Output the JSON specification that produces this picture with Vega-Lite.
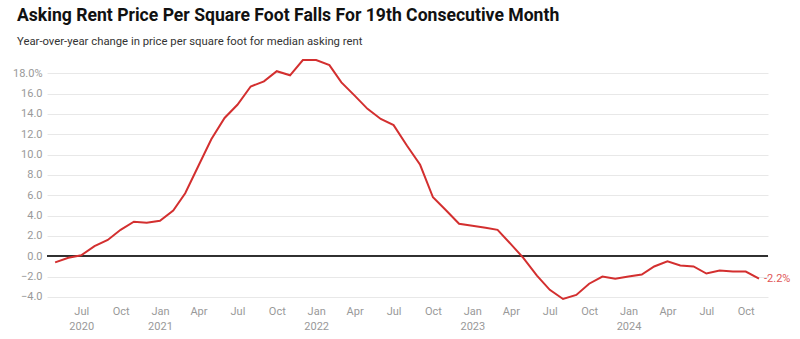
{
  "$schema": "https://vega.github.io/schema/vega-lite/v6.json",
  "width": 721,
  "height": 242,
  "autosize": {"type": "none"},
  "padding": {"left": 47, "top": 58, "right": 32, "bottom": 39},
  "background": "white",
  "config": {
    "font": "Roboto",
    "view": {"stroke": null}
  },
  "title": {
    "text": "Asking Rent Price Per Square Foot Falls For 19th Consecutive Month",
    "subtitle": "Year-over-year change in price per square foot for median asking rent",
    "anchor": "start",
    "frame": "group",
    "dx": -30,
    "offset": 9,
    "font": "Roboto",
    "fontSize": 17.6,
    "fontWeight": "bold",
    "color": "#111111",
    "subtitleFont": "Roboto",
    "subtitleFontSize": 11.3,
    "subtitleColor": "#333333",
    "subtitlePadding": 11
  },
  "data": {
    "values": [
      {"date": "2020-05-01", "value": -0.6},
      {"date": "2020-06-01", "value": -0.15},
      {"date": "2020-07-01", "value": 0.1},
      {"date": "2020-08-01", "value": 1.0},
      {"date": "2020-09-01", "value": 1.6},
      {"date": "2020-10-01", "value": 2.6},
      {"date": "2020-11-01", "value": 3.4},
      {"date": "2020-12-01", "value": 3.3},
      {"date": "2021-01-01", "value": 3.5},
      {"date": "2021-02-01", "value": 4.5},
      {"date": "2021-03-01", "value": 6.2},
      {"date": "2021-04-01", "value": 8.9},
      {"date": "2021-05-01", "value": 11.5},
      {"date": "2021-06-01", "value": 13.6},
      {"date": "2021-07-01", "value": 14.9},
      {"date": "2021-08-01", "value": 16.7},
      {"date": "2021-09-01", "value": 17.2},
      {"date": "2021-10-01", "value": 18.2},
      {"date": "2021-11-01", "value": 17.8},
      {"date": "2021-12-01", "value": 19.3},
      {"date": "2022-01-01", "value": 19.3},
      {"date": "2022-02-01", "value": 18.8},
      {"date": "2022-03-01", "value": 17.1},
      {"date": "2022-04-01", "value": 15.8},
      {"date": "2022-05-01", "value": 14.5},
      {"date": "2022-06-01", "value": 13.5},
      {"date": "2022-07-01", "value": 12.9},
      {"date": "2022-08-01", "value": 10.9},
      {"date": "2022-09-01", "value": 9.0},
      {"date": "2022-10-01", "value": 5.8},
      {"date": "2022-11-01", "value": 4.5},
      {"date": "2022-12-01", "value": 3.2},
      {"date": "2023-01-01", "value": 3.0},
      {"date": "2023-02-01", "value": 2.8},
      {"date": "2023-03-01", "value": 2.6},
      {"date": "2023-04-01", "value": 1.2},
      {"date": "2023-05-01", "value": -0.2},
      {"date": "2023-06-01", "value": -1.9},
      {"date": "2023-07-01", "value": -3.3},
      {"date": "2023-08-01", "value": -4.2},
      {"date": "2023-09-01", "value": -3.8},
      {"date": "2023-10-01", "value": -2.7},
      {"date": "2023-11-01", "value": -2.0},
      {"date": "2023-12-01", "value": -2.2},
      {"date": "2024-01-01", "value": -2.0},
      {"date": "2024-02-01", "value": -1.8},
      {"date": "2024-03-01", "value": -1.0},
      {"date": "2024-04-01", "value": -0.5},
      {"date": "2024-05-01", "value": -0.9},
      {"date": "2024-06-01", "value": -1.0},
      {"date": "2024-07-01", "value": -1.7},
      {"date": "2024-08-01", "value": -1.4},
      {"date": "2024-09-01", "value": -1.5},
      {"date": "2024-10-01", "value": -1.5},
      {"date": "2024-11-01", "value": -2.2, "label": "-2.2%"}
    ]
  },
  "encoding": {
    "x": {
      "field": "date",
      "type": "temporal",
      "title": null,
      "scale": {
        "type": "utc",
        "domain": [
          {"year": 2020, "month": 4, "date": 12, "utc": true},
          {"year": 2024, "month": 11, "date": 22, "utc": true}
        ]
      },
      "axis": {
        "values": [
          {"year": 2020, "month": 7, "date": 1, "utc": true},
          {"year": 2020, "month": 10, "date": 1, "utc": true},
          {"year": 2021, "month": 1, "date": 1, "utc": true},
          {"year": 2021, "month": 4, "date": 1, "utc": true},
          {"year": 2021, "month": 7, "date": 1, "utc": true},
          {"year": 2021, "month": 10, "date": 1, "utc": true},
          {"year": 2022, "month": 1, "date": 1, "utc": true},
          {"year": 2022, "month": 4, "date": 1, "utc": true},
          {"year": 2022, "month": 7, "date": 1, "utc": true},
          {"year": 2022, "month": 10, "date": 1, "utc": true},
          {"year": 2023, "month": 1, "date": 1, "utc": true},
          {"year": 2023, "month": 4, "date": 1, "utc": true},
          {"year": 2023, "month": 7, "date": 1, "utc": true},
          {"year": 2023, "month": 10, "date": 1, "utc": true},
          {"year": 2024, "month": 1, "date": 1, "utc": true},
          {"year": 2024, "month": 4, "date": 1, "utc": true},
          {"year": 2024, "month": 7, "date": 1, "utc": true},
          {"year": 2024, "month": 10, "date": 1, "utc": true}
        ],
        "labelExpr": "(utcmonth(datum.value) == 0 || (utcyear(datum.value) == 2020 && utcmonth(datum.value) == 6)) ? [utcFormat(datum.value, '%b'), utcFormat(datum.value, '%Y')] : utcFormat(datum.value, '%b')",
        "grid": false,
        "domain": false,
        "ticks": false,
        "labelColor": "#999999",
        "labelFontSize": 11,
        "labelPadding": 5,
        "labelLineHeight": 15,
        "labelFlush": false,
        "labelOverlap": false
      }
    },
    "y": {
      "field": "value",
      "type": "quantitative",
      "title": null,
      "scale": {"domain": [-4.3, 19.5], "nice": false, "zero": false},
      "axis": {
        "values": [-4, -2, 0, 2, 4, 6, 8, 10, 12, 14, 16, 18],
        "labelExpr": "datum.value == 18 ? format(datum.value, '.1f') + '%' : format(datum.value, '.1f')",
        "grid": true,
        "gridColor": "#e8e8e8",
        "gridWidth": 1,
        "domain": false,
        "ticks": false,
        "labelColor": "#999999",
        "labelFontSize": 11,
        "labelPadding": 5
      }
    }
  },
  "layer": [
    {
      "mark": {"type": "rule", "color": "#333333", "strokeWidth": 1},
      "encoding": {
        "x": null,
        "y": {"datum": 0, "type": "quantitative"}
      }
    },
    {
      "mark": {"type": "line", "color": "#d32f2f", "strokeWidth": 2}
    },
    {
      "transform": [{"filter": "datum.label != null"}],
      "mark": {"type": "text", "align": "left", "baseline": "middle", "dx": 5, "fontSize": 11, "color": "#e05555"},
      "encoding": {"text": {"field": "label"}}
    }
  ]
}
